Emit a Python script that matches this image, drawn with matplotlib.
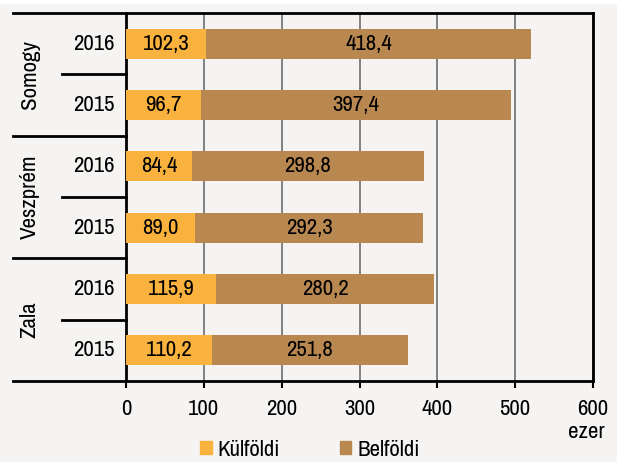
import matplotlib.pyplot as plt
from matplotlib.patches import Patch

counties = ['Somogy', 'Veszprém', 'Zala']
years = ['2016', '2015', '2016', '2015', '2016', '2015']
kulfoldi = [102.3, 96.7, 84.4, 89.0, 115.9, 110.2]
belfoldi = [418.4, 397.4, 298.8, 292.3, 280.2, 251.8]

plt.rcParams['font.family'] = ['Archivo Narrow', 'Liberation Sans']
plt.rcParams['font.size'] = 16.5

bg = '#f5f4f2'
c_kul = '#f9b23e'
c_bel = '#b98750'

fig = plt.figure(figsize=(6.17, 4.62), dpi=100, facecolor=bg)
ax = fig.add_axes([126/617, 1-381/462, 467/617, 368/462], facecolor=bg)

ypos = list(range(len(years)))
ax.barh(ypos, kulfoldi, height=0.49, color=c_kul, zorder=3)
ax.barh(ypos, belfoldi, left=kulfoldi, height=0.49, color=c_bel, zorder=3)

fmt = lambda v: f'{v:.1f}'.replace('.', ',')
for y, k, b in zip(ypos, kulfoldi, belfoldi):
    ax.text(k/2, y, fmt(k), ha='center', va='center', zorder=4)
    ax.text(k + b/2, y, fmt(b), ha='center', va='center', zorder=4)

ax.set_xlim(0, 600)
ax.set_ylim(5.5, -0.5)
ax.set_xticks(range(0, 601, 100))
ax.set_yticks([])
ax.xaxis.grid(True, color='#808080', linewidth=1.4, zorder=0)
ax.tick_params(axis='x', length=5, width=1.5, color='black', pad=8)
for s in ['left', 'right']:
    ax.spines[s].set_linewidth(2)
ax.spines['top'].set_visible(False)
ax.spines['bottom'].set_visible(False)

tr = ax.get_yaxis_transform()
x_far = (13-126)/467
x_mid = (62-126)/467
for yb in [-0.5, 5.5]:
    ax.plot([x_far, 1], [yb, yb], color='black', lw=2, transform=tr, clip_on=False, zorder=5)
for yb in [1.5, 3.5]:
    ax.plot([x_far, 0], [yb, yb], color='black', lw=2, transform=tr, clip_on=False)
for yb in [0.5, 2.5, 4.5]:
    ax.plot([x_mid, 0], [yb, yb], color='black', lw=2, transform=tr, clip_on=False)

for y, lab in zip(ypos, years):
    ax.text((94-126)/467, y, lab, ha='center', va='center', transform=tr)
for i, c in enumerate(counties):
    ax.text((30-126)/467, 2*i + 0.5, c, ha='center', va='center', rotation=90, transform=tr)

fig.text(605/617, 1-432/462, 'ezer', ha='right', va='center')

handles = [Patch(color=c_kul, label='Külföldi'), Patch(color=c_bel, label='Belföldi')]
fig.legend(handles=handles, loc='center', bbox_to_anchor=(310/617, 1-450/462), ncol=2,
           frameon=False, handlelength=0.5, handleheight=0.5, handletextpad=0.26,
           columnspacing=2.6, borderpad=0)

fig.add_artist(plt.Rectangle((0, 1-3/462), 1, 3/462, transform=fig.transFigure, color='white'))

fig.savefig('out.png', dpi=100, facecolor=bg)
